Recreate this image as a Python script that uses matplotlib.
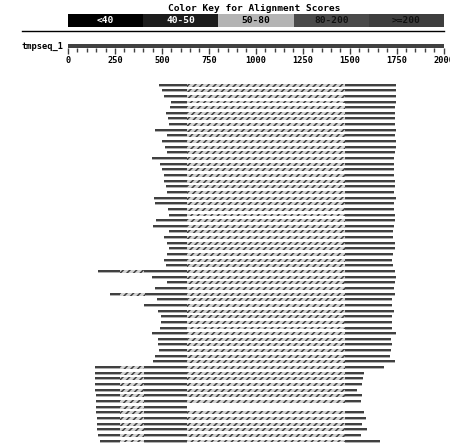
import matplotlib
matplotlib.use("Agg")
import matplotlib.pyplot as plt

# ====== Data ======
key_labels = ["<40", "40-50", "50-80", "80-200", ">=200"]
key_colors = ["#000000", "#1c1c1c", "#b4b4b4", "#4a4a4a", "#3e3e3e"]
key_text_colors = ["white", "white", "black", "#111111", "#111111"]

query_name = "tmpseq_1"
query_len = 2000
ruler_ticks = [0, 250, 500, 750, 1000, 1250, 1500, 1750, 2000]

# start / end of each hit on the query (one per row, top to bottom)
row_starts = [485, 502, 511, 548, 545, 524, 532, 536, 463, 529, 502, 518, 527, 446, 490, 502,
              511, 511, 524, 529, 460, 463, 532, 536, 469, 451, 536, 511, 529, 537, 529, 511,
              524, 162, 446, 529, 463, 224, 476, 403, 481, 494, 497, 490, 446, 481, 481, 485,
              463, 451, 144, 144, 144, 144, 144, 149, 149, 149, 149, 156, 156, 156, 162, 170]
row_ends = [1746, 1746, 1746, 1746, 1741, 1741, 1741, 1741, 1746, 1741, 1746, 1746, 1741, 1737, 1737, 1737,
            1737, 1741, 1741, 1737, 1746, 1737, 1737, 1741, 1741, 1737, 1732, 1732, 1741, 1741, 1732, 1727,
            1729, 1741, 1746, 1741, 1738, 1741, 1723, 1723, 1736, 1723, 1727, 1723, 1745, 1720, 1723, 1720,
            1713, 1741, 1683, 1575, 1569, 1566, 1541, 1566, 1562, 632, 1575, 1587, 1566, 1592, 1562, 1663]

# unaligned stretch shared by all hits
main_gap = (632, 1473)
# extra unaligned stretch near the start for some hits: row -> (from, to)
early_gaps = {33: (277, 403), 37: (277, 410)}
for r in range(50, 64):
    early_gaps[r] = (277, 403)

# ====== Figure ======
W, H = 450, 445
fig = plt.figure(figsize=(W / 100, H / 100), dpi=100)
mono = "DejaVu Sans Mono"
plt.rcParams["hatch.linewidth"] = 1.1
plt.rcParams["hatch.color"] = "#404040"


def px_axes(x0, y0, x1, y1):
    return fig.add_axes([x0 / W, 1 - y1 / H, (x1 - x0) / W, (y1 - y0) / H])


x_left, x_right = 68, 443.6

# ====== Color key ======
fig.text(254 / W, 1 - 8.5 / H, "Color Key for Alignment Scores", ha="center", va="center",
         fontsize=6.8, fontweight="bold", family=mono)
kax = px_axes(x_left, 14, 444, 27.3)
kax.barh(0, [1] * len(key_labels), left=range(len(key_labels)), height=1, color=key_colors)
for i, (lab, tc) in enumerate(zip(key_labels, key_text_colors)):
    kax.text(i + 0.5, 0, lab, ha="center", va="center", color=tc, fontsize=6.8,
             fontweight="bold", family=mono)
kax.set_xlim(0, len(key_labels))
kax.set_ylim(-0.5, 0.5)
kax.axis("off")
fig.add_artist(plt.Line2D([22 / W, 444 / W], [1 - 31 / H, 1 - 31 / H], color="black", lw=1))

# ====== Query ruler ======
rax = px_axes(x_left, 44, x_right, 48)
rax.set_facecolor("#404040")
rax.set_xlim(0, query_len)
rax.set_ylim(0, 1)
for s in rax.spines.values():
    s.set_visible(False)
rax.set_yticks([])
rax.set_xticks(ruler_ticks)
rax.set_xticks(range(0, query_len + 1, 50), minor=True)
rax.tick_params(axis="x", which="major", length=6 * 0.72, width=1.0, color="#404040", pad=1.2,
                labelsize=6.2, labelcolor="black")
rax.tick_params(axis="x", which="minor", length=4 * 0.72, width=1.0, color="#404040")
for t in rax.get_xticklabels():
    t.set_fontweight("bold")
    t.set_family(mono)
fig.text(63.5 / W, 1 - 46 / H, query_name, ha="right", va="center", fontsize=6.3,
         fontweight="bold", family=mono)

# ====== Hits ======
n = len(row_starts)
row_top_px, row_step = 85, 5.65
ax = px_axes(x_left, 82, x_right, 82 + row_step * n)
ax.set_xlim(0, query_len)
ax.set_ylim(n - 0.53, -0.53)
ax.axis("off")

dark, shadow = "#404040", "#b0b0b0"


def seg(row, a, b):
    if b <= a:
        return
    ax.barh(row - 0.075, b - a, left=a, height=0.35, color=dark, lw=0)
    ax.barh(row + 0.19, b - a, left=a, height=0.18, color=shadow, lw=0)


def gap(row, a, b):
    if b <= a:
        return
    ax.barh(row + 0.01, b - a, left=a, height=0.52, facecolor="#d4d4d4", edgecolor=dark,
            hatch="/////", lw=0)


for r in range(n):
    s, e = row_starts[r], row_ends[r]
    if r in early_gaps:
        g0, g1 = early_gaps[r]
        seg(r, s, g0)
        gap(r, g0, g1)
        s = g1
    if e > main_gap[0]:
        seg(r, s, main_gap[0])
        gap(r, main_gap[0], main_gap[1])
        seg(r, main_gap[1], e)
    else:
        seg(r, s, e)

fig.savefig("out.png", dpi=100, facecolor="white")
